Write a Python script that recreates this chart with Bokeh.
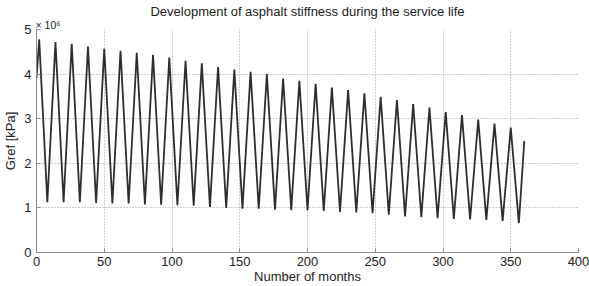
from bokeh.plotting import figure
from bokeh.models import Range1d, FixedTicker, Title
from bokeh.embed import file_html
from bokeh.resources import INLINE

# ---- texts and ticks ----
title_text = "Development of asphalt stiffness during the service life"
x_label = "Number of months"
y_label = "Gref [kPa]"
multiplier_text = "\u00d7 10\u2076"
x_ticks = [0, 50, 100, 150, 200, 250, 300, 350, 400]
y_ticks = [0, 1, 2, 3, 4, 5]

# ---- data (units of 10^6 kPa) ----
start_month = 0
start_value = 3.9
peak_months = [2, 14, 26, 38, 50, 62, 74, 86, 98, 110, 122, 134, 146, 158, 170,
               182, 194, 206, 218, 230, 242, 254, 266, 278, 290, 302, 314, 326, 338, 350]
peak_values = [4.78, 4.72, 4.68, 4.62, 4.57, 4.52, 4.48, 4.43, 4.37, 4.30,
               4.24, 4.16, 4.10, 4.05, 4.00, 3.90, 3.85, 3.78, 3.70, 3.64,
               3.57, 3.49, 3.42, 3.33, 3.25, 3.15, 3.08, 2.98, 2.89, 2.80]
trough_months = [8, 20, 32, 44, 56, 68, 80, 92, 104, 116, 128, 140, 152, 164, 176,
                 188, 200, 212, 224, 236, 248, 260, 272, 284, 296, 308, 320, 332, 344, 356]
trough_values = [1.13, 1.13, 1.13, 1.11, 1.10, 1.10, 1.08, 1.07, 1.06, 1.05,
                 1.02, 1.00, 0.98, 0.98, 0.96, 0.95, 0.95, 0.93, 0.91, 0.90,
                 0.88, 0.85, 0.81, 0.79, 0.77, 0.75, 0.74, 0.73, 0.71, 0.66]
end_month = 360
end_value = 2.5

FONT = "Liberation Sans"
TXT = "#222222"

xs = [start_month]
ys = [start_value]
for pm, pv, tm, tv in zip(peak_months, peak_values, trough_months, trough_values):
    xs += [pm, tm]
    ys += [pv, tv]
xs.append(end_month)
ys.append(end_value)

p = figure(width=589, height=286, output_backend="svg", toolbar_location=None,
           x_range=Range1d(0, 400), y_range=Range1d(0, 5),
           min_border_left=36, min_border_right=11, min_border_top=29, min_border_bottom=34)
p.outline_line_color = None
p.background_fill_color = "white"
p.border_fill_color = "white"

p.line(xs, ys, line_color="#2e2e2e", line_width=1.8)

for ax, ticks in ((p.xaxis, x_ticks), (p.yaxis, y_ticks)):
    ax.ticker = FixedTicker(ticks=ticks)
    ax.major_label_text_font = FONT
    ax.major_label_text_font_size = "13px"
    ax.major_label_text_color = TXT
    ax.axis_line_color = "#8a8a8a"
    ax.major_tick_line_color = "#8a8a8a"
    ax.major_tick_in = 4
    ax.major_tick_out = 0
    ax.minor_tick_in = 0
    ax.minor_tick_out = 0
    ax.axis_label_text_font = FONT
    ax.axis_label_text_font_size = "13px"
    ax.axis_label_text_font_style = "normal"
    ax.axis_label_text_color = TXT
p.xaxis.major_label_standoff = 4
p.yaxis.major_label_standoff = 5
p.xaxis.axis_label = x_label
p.xaxis.axis_label_standoff = 0
p.yaxis.axis_label = y_label
p.yaxis.axis_label_standoff = 3

for g in (p.xgrid, p.ygrid):
    g.grid_line_color = "#9a9a9a"
    g.grid_line_dash = "1 2"
    g.grid_line_width = 1

# multiplier, just above the frame at its left
mult = Title(text=multiplier_text, align="left", offset=-1, standoff=-3,
             text_font=FONT, text_font_size="10.5px", text_font_style="normal",
             text_color=TXT, text_line_height=1.0)
p.add_layout(mult, "above")

p.title.text = title_text
p.title.align = "center"
p.title.text_font = FONT
p.title.text_font_size = "13px"
p.title.text_font_style = "normal"
p.title.text_color = TXT
p.title.text_line_height = 1.0
p.title.standoff = 0

open("out.html", "w").write(file_html(p, INLINE))
